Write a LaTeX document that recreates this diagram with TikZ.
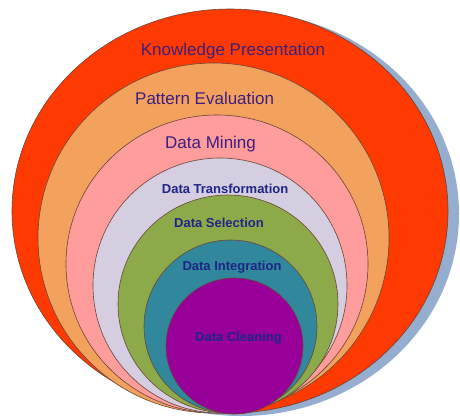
\documentclass[tikz,border=0pt]{standalone}
\usepackage{fontspec}
\setmainfont{Liberation Sans}
\definecolor{shadowc}{HTML}{95ADCF}
\definecolor{ringline}{HTML}{6A4436}
\definecolor{cRed}{HTML}{FF3A00}
\definecolor{cOrange}{HTML}{F3A25E}
\definecolor{cPink}{HTML}{FF9C9C}
\definecolor{cLav}{HTML}{D5CDE0}
\definecolor{cGreen}{HTML}{8DAA4A}
\definecolor{cTeal}{HTML}{31879C}
\definecolor{cPurple}{HTML}{990099}
\definecolor{lblA}{HTML}{3D1F80}
\definecolor{lblB}{HTML}{1F2585}
\begin{document}
\begin{tikzpicture}[x=1pt,y=-1pt,
  ring/.style={draw=ringline, line width=0.6pt},
  lbl/.style={anchor=base west, inner sep=0pt, text=lblA, font=\fontsize{17}{20}\selectfont},
  blbl/.style={anchor=base west, inner sep=0pt, text=lblB, font=\fontsize{13}{15}\selectfont\bfseries}]
\useasboundingbox (0,0) rectangle (460,416);
\fill[shadowc] (241,214) ellipse [x radius=218, y radius=202];
\path[ring, fill=cRed] (230,211) ellipse [x radius=218, y radius=202];
\path[ring, fill=cOrange] (213.5,238) ellipse [x radius=175.5, y radius=175];
\path[ring, fill=cPink] (217,264) ellipse [x radius=151, y radius=149];
\path[ring, fill=cLav] (220,285.5) ellipse [x radius=127, y radius=127.5];
\path[ring, fill=cGreen] (228,304) ellipse [x radius=110, y radius=109];
\path[ring, fill=cTeal] (230.5,326.5) ellipse [x radius=86.5, y radius=86.5];
\path[ring, fill=cPurple] (234.5,346) ellipse [x radius=68.5, y radius=68];
\node[lbl] (kp) at (140.7,55) {Knowledge Presentation};
\node[lbl] (pe) at (135,104.5) {Pattern Evaluation};
\node[lbl] (dm) at (165,148) {Data Mining};
\node[blbl] (dt) at (161.7,193) {Data Transformation};
\node[blbl] (ds) at (174,227.7) {Data Selection};
\node[blbl] (di) at (182.3,270) {Data Integration};
\node[blbl] (dc) at (195,341.7) {Data Cleaning};
\end{tikzpicture}
\end{document}
